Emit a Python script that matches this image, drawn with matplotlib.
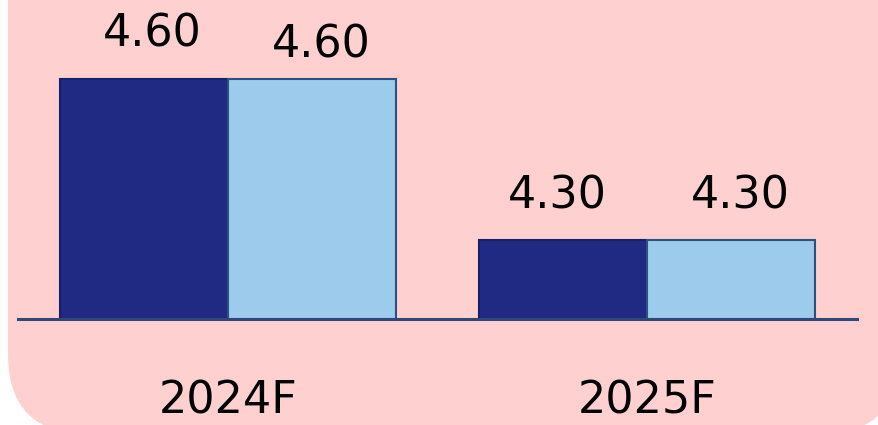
import matplotlib
matplotlib.use('Agg')
import matplotlib.pyplot as plt
from matplotlib.patches import FancyBboxPatch
from matplotlib.transforms import IdentityTransform
import numpy as np

years = ['2024F', '2025F']
series_a = [4.60, 4.30]
series_b = [4.60, 4.30]

# label nudges in pixels (dx, dy above bar top) for each bar
nudge_a = [(8, 32), (-6, 32)]
nudge_b = [(10, 21), (9, 32)]

pink = '#ffd0d0'
navy = '#202a82'
sky = '#9ccbeb'

fig = plt.figure(figsize=(8.79, 4.25), dpi=100)
fig.patch.set_facecolor('white')

# rounded pink panel, drawn in pixel coordinates
panel = FancyBboxPatch((8, -9), 892, 540,
                       boxstyle='round,pad=0,rounding_size=80',
                       transform=IdentityTransform(),
                       facecolor=pink, edgecolor='none', zorder=0)
fig.add_artist(panel)

W, H = 879, 425
ax = fig.add_axes([18 / W, (H - 319) / H, (857 - 18) / W, 319 / H])
ax.set_facecolor('none')

x = np.arange(len(years))
w = 0.4
bars_a = ax.bar(x - w / 2, series_a, w, color=navy, edgecolor='#14206a',
                linewidth=1.5, zorder=2)
bars_b = ax.bar(x + w / 2, series_b, w, color=sky, edgecolor='#2d5080',
                linewidth=1.5, zorder=2)

ax.set_xlim(-0.5, 1.5)
ax.set_ylim(4.153, 4.747)

px = 72 / fig.dpi
for bars, vals, nudges in [(bars_a, series_a, nudge_a), (bars_b, series_b, nudge_b)]:
    for b, v, (dx, dy) in zip(bars, vals, nudges):
        ax.annotate(f'{v:.2f}', (b.get_x() + b.get_width() / 2, v),
                    xytext=(dx * px, dy * px), textcoords='offset points',
                    ha='center', va='baseline', fontsize=32, color='black')

# category names under the baseline
ax.set_xticks(x)
ax.set_xticklabels([])
ax.tick_params(axis='x', length=0)
for xi, name in zip(x, years):
    ax.annotate(name, (xi, 0), xycoords=('data', 'axes fraction'),
                xytext=(0, -94 * px), textcoords='offset points',
                ha='center', va='baseline', fontsize=32, color='black')
ax.set_yticks([])

for side in ['top', 'left', 'right']:
    ax.spines[side].set_visible(False)
ax.spines['bottom'].set_color('#2b4a7a')
ax.spines['bottom'].set_linewidth(2.2)
ax.spines['bottom'].set_zorder(3)

fig.savefig('out.png', dpi=100, facecolor='white')
